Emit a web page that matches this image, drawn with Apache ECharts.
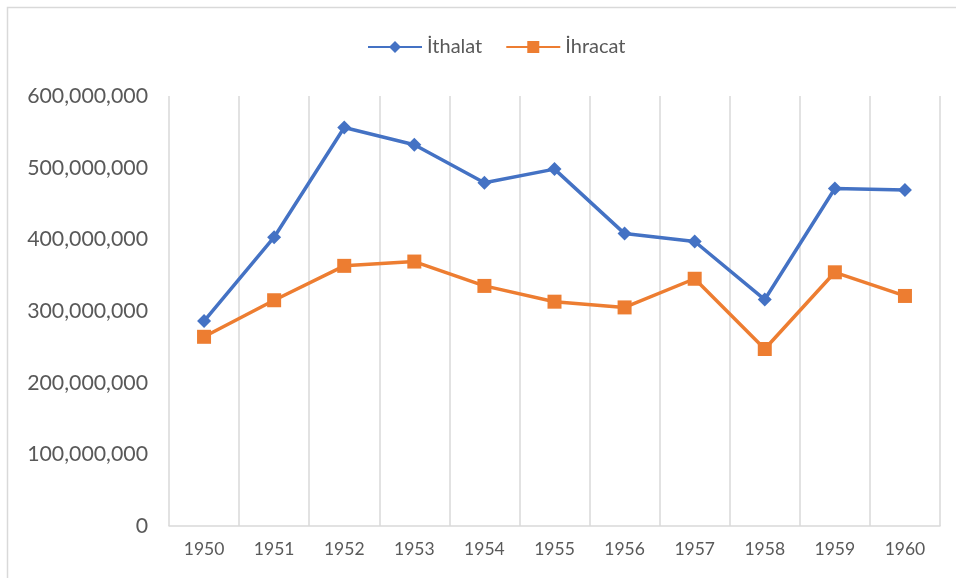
<!DOCTYPE html>
<html>
<head>
<meta charset="utf-8">
<script src="https://cdn.jsdelivr.net/npm/echarts@6/dist/echarts.min.js"></script>
<style>
  html, body { margin: 0; padding: 0; background: #fff; }
  #chart { width: 956px; height: 578px; }
</style>
</head>
<body>
<div id="chart"></div>
<script>
var years = ['1950', '1951', '1952', '1953', '1954', '1955', '1956', '1957', '1958', '1959', '1960']
var ithalat = [286000000, 403000000, 556000000, 532000000, 479000000, 498000000, 408000000, 397000000, 316000000, 471000000, 469000000]
var ihracat = [264000000, 315000000, 363000000, 369000000, 335000000, 313000000, 305000000, 345000000, 247000000, 354000000, 321000000]

var font = 'Lato, "Open Sans", sans-serif'

var option = {
    backgroundColor: '#fff',
    textStyle: { fontFamily: font },
    graphic: [{
        type: 'rect',
        shape: { x: 7.5, y: 7.5, width: 1000, height: 600 },
        style: { fill: 'none', stroke: '#d9d9d9', lineWidth: 1.5 },
        silent: true
    }],
    legend: {
        top: 32,
        left: 362,
        itemWidth: 54,
        itemHeight: 15,
        itemGap: 23,
        textStyle: { fontSize: 20, color: '#595959', fontFamily: font },
        data: ['İthalat', 'İhracat']
    },
    grid: { left: 169, right: 16, top: 96, bottom: 52 },
    xAxis: {
        type: 'category',
        data: years,
        boundaryGap: true,
        axisLine: { lineStyle: { color: '#d9d9d9', width: 1.5 } },
        axisTick: { show: false },
        axisLabel: { fontSize: 17.5, color: '#595959', margin: 14, fontFamily: font },
        splitLine: { show: true, lineStyle: { color: '#d9d9d9', width: 1.5 } }
    },
    yAxis: {
        type: 'value',
        min: 0,
        max: 600000000,
        interval: 100000000,
        axisLine: { show: false },
        axisTick: { show: false },
        splitLine: { show: false },
        axisLabel: {
            fontSize: 21.3,
            color: '#595959',
            margin: 21,
            fontFamily: font,
            formatter: function (v) { return v.toLocaleString('en-US') }
        }
    },
    series: [{
        name: 'İthalat',
        type: 'line',
        data: ithalat,
        symbol: 'diamond',
        symbolSize: 14,
        lineStyle: { color: '#4472C4', width: 3.5 },
        itemStyle: { color: '#4472C4' }
    }, {
        name: 'İhracat',
        type: 'line',
        data: ihracat,
        symbol: 'rect',
        symbolSize: 14,
        lineStyle: { color: '#ED7D31', width: 3.5 },
        itemStyle: { color: '#ED7D31' }
    }]
}

var myChart = echarts.init(document.getElementById('chart'))
myChart.setOption(option)
</script>
</body>
</html>
